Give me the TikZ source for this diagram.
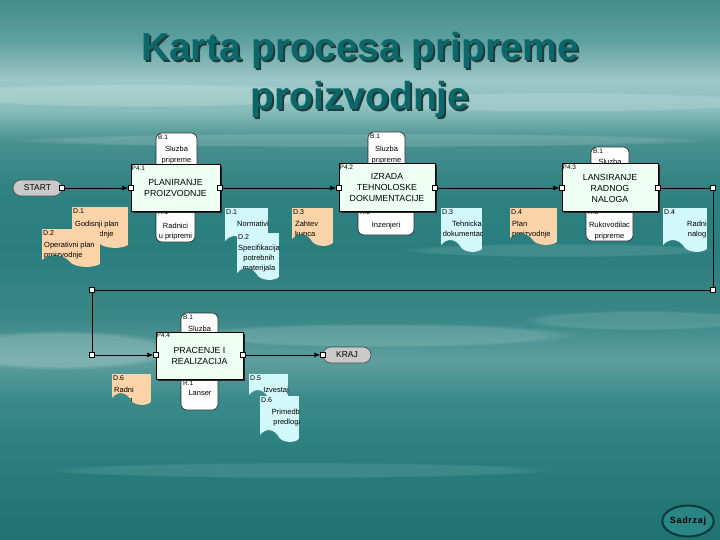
\documentclass[tikz,border=0pt]{standalone}
\usepackage{fontspec}
\setmainfont{Liberation Sans}
\usetikzlibrary{shadows,arrows.meta,shapes.geometric,fadings}

\definecolor{orangedoc}{HTML}{FBD3A8}
\definecolor{cyandoc}{HTML}{D2F8FB}
\definecolor{procfill}{HTML}{EEFFF3}
\definecolor{pillgray}{HTML}{C9C9C9}
\definecolor{titlecol}{HTML}{0C6868}
\definecolor{titleshadow}{HTML}{1F3B3B}
\definecolor{bgA}{HTML}{1F7272}
\definecolor{bgB}{HTML}{287C7C}
\definecolor{bgC}{HTML}{3A8A8A}
\definecolor{bgD}{HTML}{5E9F9E}
\definecolor{bgE}{HTML}{3A8888}
\definecolor{bgF}{HTML}{2B7E7E}
\definecolor{bgG}{HTML}{2F8282}
\definecolor{bgH}{HTML}{4A9191}
\definecolor{bgI}{HTML}{88BDBC}
\definecolor{bgJ}{HTML}{9CC8C7}
\definecolor{bgK}{HTML}{5F9F9F}
\definecolor{bgL}{HTML}{448D8D}
\definecolor{sadfill}{HTML}{2A8585}
\definecolor{sadline}{HTML}{0C3A3A}

\pgfdeclareverticalshading{bgshade}{100bp}{color(0bp)=(bgA); color(25bp)=(bgA); color(31.5bp)=(bgB); color(38bp)=(bgC); color(41.7bp)=(bgD); color(45.4bp)=(bgE); color(51.9bp)=(bgF); color(57.5bp)=(bgG); color(62bp)=(bgH); color(64.8bp)=(bgI); color(67.6bp)=(bgJ); color(71.3bp)=(bgK); color(75bp)=(bgL); color(100bp)=(bgL)}

\newcommand\shadowtext[1]{\rlap{\hspace{2pt}\raisebox{-2pt}{\color{titleshadow}#1}}#1}

\tikzset{
  proc/.style={draw=black, line width=1pt, fill=procfill, align=center,
    font=\fontsize{8.8}{11}\selectfont, inner sep=0pt,
    drop shadow={shadow xshift=1.5pt, shadow yshift=-1.5pt, opacity=1, fill=black!85}},
  plabel/.style={anchor=north west, inner sep=1pt, font=\fontsize{6.5}{7}\selectfont},
  rbox/.style={draw=black!85, line width=0.6pt, fill=white, rounded corners=6pt, inner sep=0pt},
  rtext/.style={align=center, inner sep=0pt, font=\fontsize{7.5}{10.5}\selectfont},
  doclabel/.style={anchor=north west, inner sep=1pt, font=\fontsize{7}{8}\selectfont},
  doctext/.style={inner sep=0pt, align=left, font=\fontsize{7.5}{10}\selectfont},
  pill/.style={draw=black!70, line width=0.6pt, fill=pillgray, rounded corners=8pt, inner sep=0pt,
    minimum height=16pt, font=\fontsize{8.5}{10}\selectfont},
  csq/.style={draw=black, fill=white, line width=0.5pt, minimum size=5pt, inner sep=0pt},
  link/.style={draw=black, line width=0.8pt},
  arr/.style={link, -{Latex[length=6pt,width=5pt]}},
  titlestyle/.style={anchor=base, inner sep=0pt, text=titlecol, font=\fontsize{39}{40}\selectfont\bfseries},
  mist/.style={fill=white, path fading=circle with fuzzy edge 20 percent},
}

% document shape: name, x0, y0, x1, y1, fill, label, text options, text
\newcommand\docbox[9]{%
  \begin{scope}
    \clip (#2,#3) -- (#4,#3) -- (#4,{#5-3})
      .. controls ({#4-0.12*(#4-#2)},{#5+1}) and ({(#2+#4)/2+0.12*(#4-#2)},{#5+1}) .. ({(#2+#4)/2},{#5-4})
      .. controls ({(#2+#4)/2-0.14*(#4-#2)},{#5-14}) and ({#2+0.14*(#4-#2)},{#5-14}) .. (#2,{#5-7}) -- cycle;
    \fill[#6] (#2,#3) rectangle (#4,{#5+2});
    \node[doclabel] (#1-l) at (#2,#3) {#7};
    \node[doctext,#8] (#1) {#9};
  \end{scope}}

\begin{document}
\begin{tikzpicture}[x=1pt,y=-1pt]
\useasboundingbox (0,0) rectangle (720,540);
\shade[shading=bgshade] (0,0) rectangle (720,540);
% misty streaks
\begin{scope}
\fill[mist, opacity=0.18] (140,95) ellipse (220 and 12);
\fill[mist, opacity=0.16] (560,102) ellipse (220 and 10);
\fill[mist, opacity=0.15] (360,140) ellipse (360 and 7);
\fill[mist, opacity=0.20] (60,350) ellipse (120 and 20);
\fill[mist, opacity=0.15] (380,335) ellipse (200 and 12);
\fill[mist, opacity=0.12] (640,320) ellipse (120 and 10);
\fill[mist, opacity=0.10] (300,470) ellipse (260 and 8);
\fill[mist, opacity=0.10] (560,250) ellipse (160 and 7);
\end{scope}

% title
\node[titlestyle] (t1) at (360,61) {\shadowtext{Karta procesa pripreme}};
\node[titlestyle] (t2) at (360,110) {\shadowtext{proizvodnje}};

% resource boxes (behind process boxes)
\node[rbox, minimum width=41pt, minimum height=42pt] (b1) at (176.5,154) {};
\node[plabel] (b1l) at (157,134) {B.1};
\node[rtext] (b1t) at (176.5,155) {Sluzba\\pripreme};
\node[rbox, minimum width=39pt, minimum height=42pt] (r1) at (175.5,221) {};
\node[plabel] (r1l) at (157,209) {R.1};
\node[rtext] (r1t) at (175.5,231.5) {Radnici\\u pripremi};

\node[rbox, minimum width=37pt, minimum height=43pt] (b2) at (386.5,153.5) {};
\node[plabel] (b2l) at (369,133) {B.1};
\node[rtext] (b2t) at (386.5,155) {Sluzba\\pripreme};
\node[rbox, minimum width=56pt, minimum height=35pt] (r2) at (386,217.5) {};
\node[plabel] (r2l) at (359,209) {R.2};
\node[rtext] (r2t) at (386,226) {Inzenjeri};

\node[rbox, minimum width=38pt, minimum height=28pt] (b3) at (610,161) {};
\node[plabel] (b3l) at (592,148) {B.1};
\node[rtext] (b3t) at (610,162) {Sluzba};
\node[rbox, minimum width=47pt, minimum height=41pt] (r3) at (609.5,220.5) {};
\node[plabel] (r3l) at (587,209) {R.3};
\node[rtext] (r3t) at (609.5,231) {Rukovodilac\\pripreme};

\node[rbox, minimum width=37pt, minimum height=32pt] (b4) at (199.5,329) {};
\node[plabel] (b4l) at (182,314) {B.1};
\node[rtext] (b4t) at (199.5,329) {Sluzba};
\node[rbox, minimum width=37pt, minimum height=45pt] (r4) at (199.5,387.5) {};
\node[plabel] (r4l) at (182,380) {R.1};
\node[rtext] (r4t) at (200,393) {Lanser};

% process boxes
\node[proc, minimum width=89pt, minimum height=47pt] (p41) at (175.5,188.5) {PLANIRANJE\\PROIZVODNJE};
\node[plabel] (p41l) at (p41.north west) {P4.1};
\node[proc, minimum width=96pt, minimum height=48pt] (p42) at (387,188) {IZRADA\\TEHNOLOSKE\\DOKUMENTACIJE};
\node[plabel] (p42l) at (p42.north west) {P4.2};
\node[proc, minimum width=96pt, minimum height=48pt] (p43) at (610,188) {LANSIRANJE\\RADNOG\\NALOGA};
\node[plabel] (p43l) at (p43.north west) {P4.3};
\node[proc, minimum width=87pt, minimum height=47pt] (p44) at (199.5,355.5) {PRACENJE I\\REALIZACIJA};
\node[plabel] (p44l) at (p44.north west) {P4.4};

% documents
\docbox{d1o}{72}{207}{128}{248}{orangedoc}{D.1}{anchor=north west, at={(75,221)}}{Godisnji plan\\proizvodnje}
\docbox{d2o}{42}{229}{100}{267}{orangedoc}{D.2}{anchor=north west, at={(44,242)}}{Operativni plan\\proizvodnje}
\docbox{d1c}{225}{208}{268}{248}{cyandoc}{D.1}{anchor=north west, at={(237,221)}}{Normativi}
\docbox{d2c}{237}{233}{279}{280}{cyandoc}{D.2}{anchor=north, align=center, at={(259,245)}}{Specifikacija\\potrebnih\\materijala}
\docbox{d3o}{292}{208}{333}{246}{orangedoc}{D.3}{anchor=north west, at={(295,221)}}{Zahtev\\kupca}
\docbox{d3c}{441}{208}{482}{252}{cyandoc}{D.3}{anchor=north, align=center, at={(467,221)}}{Tehnicka\\dokumentacija}
\docbox{d4o}{510}{208}{557}{245}{orangedoc}{D.4}{anchor=north west, at={(512,221)}}{Plan\\proizvodnje}
\docbox{d4c}{663}{208}{707}{252}{cyandoc}{D.4}{anchor=north, align=center, at={(697,221)}}{Radni\\nalog}
\docbox{d6o}{112}{374}{151}{405}{orangedoc}{D.6}{anchor=north west, at={(114,387)}}{Radni\\nalog}
\docbox{d5c}{249}{374}{288}{402}{cyandoc}{D.5}{anchor=north, align=center, at={(276,387)}}{Izvestaj}
\docbox{d6c}{260}{396}{299}{442}{cyandoc}{D.6}{anchor=north, align=center, at={(288,409)}}{Primedbe\\predloga}

% start / end
\node[pill, minimum width=49pt] (start) at (37.5,188) {START};
\node[pill, minimum width=48pt] (kraj) at (347,355) {KRAJ};

% connection squares
\node[csq] (s1) at (62,188) {};
\node[csq] (s2) at (131,188) {};
\node[csq] (s3) at (220,188) {};
\node[csq] (s4) at (339,188) {};
\node[csq] (s5) at (435,188) {};
\node[csq] (s6) at (562,188) {};
\node[csq] (s7) at (658,188) {};
\node[csq] (c1) at (713,188) {};
\node[csq] (c2) at (713,290) {};
\node[csq] (c3) at (92,290) {};
\node[csq] (c4) at (92,355) {};
\node[csq] (s8) at (156,355) {};
\node[csq] (s9) at (243,355) {};
\node[csq] (s10) at (323,355) {};

% connectors
\draw[arr] (s1) -- (s2);
\draw[arr] (s3) -- (s4);
\draw[arr] (s5) -- (s6);
\draw[link] (s7) -- (c1);
\draw[link] (c1) -- (c2);
\draw[link] (c2) -- (c3);
\draw[link] (c3) -- (c4);
\draw[arr] (c4) -- (s8);
\draw[arr] (s9) -- (s10);

% Sadrzaj button
\node[draw=sadline, line width=2pt, fill=sadfill, ellipse, minimum width=50pt, minimum height=31pt, inner sep=0pt,
  font=\fontsize{9}{10}\selectfont\bfseries\addfontfeatures{LetterSpace=8}] (sad) at (688,521) {Sadrzaj};
\end{tikzpicture}
\end{document}
